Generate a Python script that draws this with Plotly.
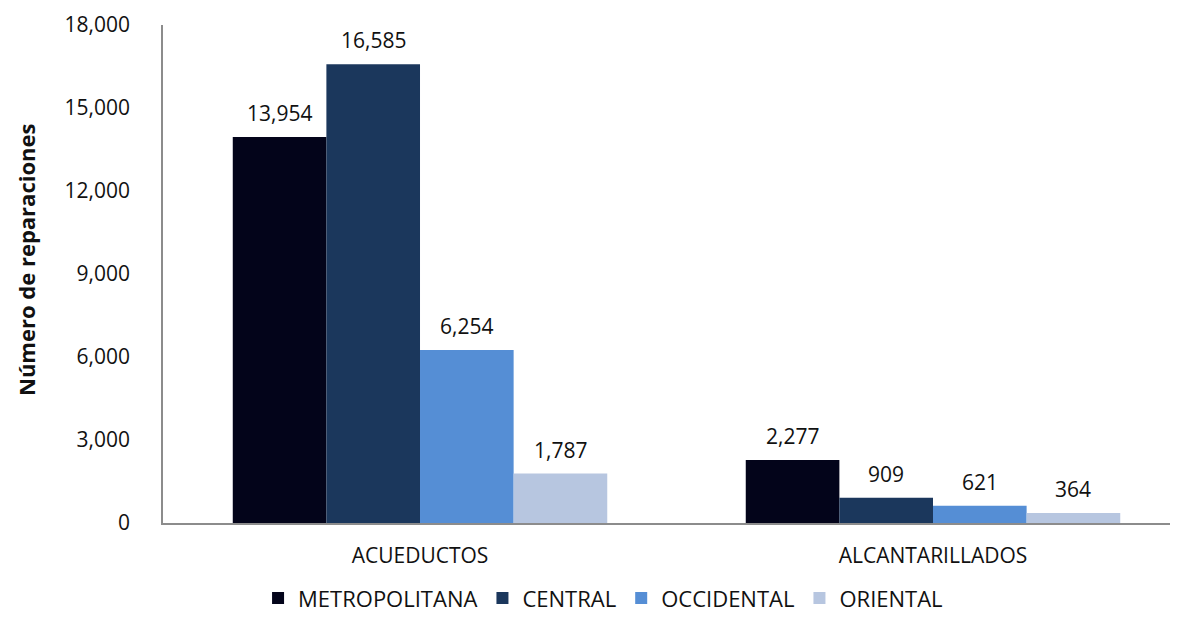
import plotly.graph_objects as go

categories = ["ACUEDUCTOS", "ALCANTARILLADOS"]
regions = ["METROPOLITANA", "CENTRAL", "OCCIDENTAL", "ORIENTAL"]
metropolitana = [13954, 2277]
central = [16585, 909]
occidental = [6254, 621]
oriental = [1787, 364]
y_ticks = [0, 3000, 6000, 9000, 12000, 15000, 18000]

series = [metropolitana, central, occidental, oriental]
colors = ["#03041a", "#1b375c", "#558ed5", "#b7c6e0"]

FONT = "'Open Sans', sans-serif"
BARGAP = 0.27

fig = go.Figure()
for name, values, color in zip(regions, series, colors):
    fig.add_trace(
        go.Bar(
            x=categories,
            y=values,
            name=name,
            marker=dict(color=color, line=dict(width=0)),
        )
    )

# value labels, placed over each bar of the group
bar_w = (1 - BARGAP) / len(series)
labels = []
for j, values in enumerate(series):
    for i, v in enumerate(values):
        labels.append(
            dict(
                x=i + (j - (len(series) - 1) / 2) * bar_w,
                y=v,
                xref="x",
                yref="y",
                text=f"{v:,}",
                showarrow=False,
                yanchor="middle",
                yshift=24,
                font=dict(size=21, color="#111111"),
            )
        )

labels.append(
    dict(
        text="<b>Número de reparaciones</b>",
        textangle=-90,
        xref="paper",
        yref="paper",
        x=-0.153,
        y=0.528,
        xanchor="left",
        yanchor="middle",
        showarrow=False,
        font=dict(size=22),
    )
)

# page body adds an 8px margin; size the figure so the page is 1178x620
fig.update_layout(
    width=1162,
    height=604,
    paper_bgcolor="white",
    plot_bgcolor="white",
    barmode="group",
    bargap=BARGAP,
    bargroupgap=0,
    margin=dict(l=155, r=0, t=17, b=89, autoexpand=False),
    font=dict(family=FONT, size=21, color="#111111"),
    xaxis=dict(
        range=[-0.501, 1.462],
        showline=True,
        linecolor="#8c8c8c",
        linewidth=1.5,
        ticks="",
        showgrid=False,
        ticklabelstandoff=13,
    ),
    yaxis=dict(
        range=[0, 18000],
        tickvals=y_ticks,
        tickformat=",",
        showline=True,
        linecolor="#8c8c8c",
        linewidth=1.5,
        ticks="",
        showgrid=False,
        zeroline=False,
        ticklabelstandoff=27,
    ),
    legend=dict(
        orientation="h",
        x=0.437,
        xanchor="center",
        y=-0.151,
        yanchor="middle",
        itemwidth=30,
        traceorder="normal",
        font=dict(size=22),
    ),
    annotations=labels,
)

fig.write_html("out.html")
